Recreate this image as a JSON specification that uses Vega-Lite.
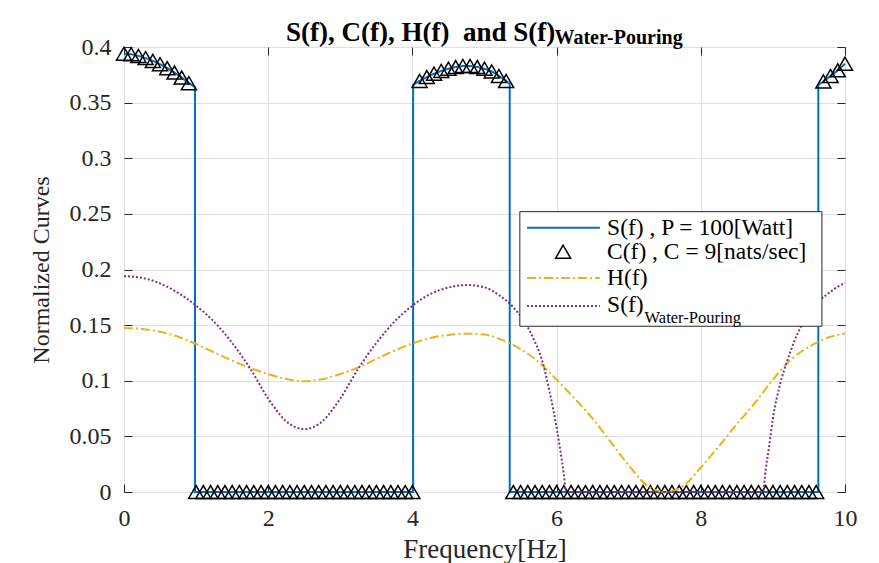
{
  "$schema": "https://vega.github.io/schema/vega-lite/v6.json",
  "width": 721,
  "height": 445,
  "autosize": "none",
  "padding": {"left": 124, "top": 47, "right": 34, "bottom": 71},
  "background": "white",
  "config": {
    "view": {"stroke": "#262626", "strokeWidth": 1},
    "font": "Liberation Serif"
  },
  "title": {
    "text": "S(f), C(f), H(f)\u00a0 and S(f)",
    "anchor": "start",
    "frame": "group",
    "dx": 162,
    "offset": -41,
    "baseline": "alphabetic",
    "font": "Liberation Serif",
    "fontSize": 27,
    "fontWeight": "bold",
    "color": "black"
  },
  "datasets": {
    "S": [
      {"f": 0, "s": 0.394}, {"f": 0.1, "s": 0.3935}, {"f": 0.2, "s": 0.392}, {"f": 0.3, "s": 0.39},
      {"f": 0.4, "s": 0.3875}, {"f": 0.5, "s": 0.3845}, {"f": 0.6, "s": 0.381}, {"f": 0.7, "s": 0.377},
      {"f": 0.8, "s": 0.3725}, {"f": 0.9, "s": 0.3675}, {"f": 0.985, "s": 0.364}, {"f": 0.985, "s": 0},
      {"f": 4.01, "s": 0}, {"f": 4.01, "s": 0.366}, {"f": 4.1, "s": 0.3695}, {"f": 4.2, "s": 0.373},
      {"f": 4.3, "s": 0.376}, {"f": 4.4, "s": 0.3785}, {"f": 4.5, "s": 0.3805}, {"f": 4.6, "s": 0.382},
      {"f": 4.7, "s": 0.383}, {"f": 4.8, "s": 0.383}, {"f": 4.9, "s": 0.382}, {"f": 5.0, "s": 0.3805},
      {"f": 5.1, "s": 0.378}, {"f": 5.2, "s": 0.374}, {"f": 5.3, "s": 0.3695}, {"f": 5.35, "s": 0.367},
      {"f": 5.35, "s": 0}, {"f": 9.63, "s": 0}, {"f": 9.63, "s": 0.366}, {"f": 9.7, "s": 0.369},
      {"f": 9.8, "s": 0.374}, {"f": 9.9, "s": 0.379}, {"f": 10, "s": 0.385}
    ],
    "C": [
      {"f": 0, "c": 0.394}, {"f": 0.1, "c": 0.3935}, {"f": 0.2, "c": 0.392}, {"f": 0.3, "c": 0.39},
      {"f": 0.4, "c": 0.3875}, {"f": 0.5, "c": 0.3845}, {"f": 0.6, "c": 0.381}, {"f": 0.7, "c": 0.377},
      {"f": 0.8, "c": 0.3725}, {"f": 0.9, "c": 0.3675},
      {"f": 1.0, "c": 0}, {"f": 1.1, "c": 0}, {"f": 1.2, "c": 0}, {"f": 1.3, "c": 0}, {"f": 1.4, "c": 0},
      {"f": 1.5, "c": 0}, {"f": 1.6, "c": 0}, {"f": 1.7, "c": 0}, {"f": 1.8, "c": 0}, {"f": 1.9, "c": 0},
      {"f": 2.0, "c": 0}, {"f": 2.1, "c": 0}, {"f": 2.2, "c": 0}, {"f": 2.3, "c": 0}, {"f": 2.4, "c": 0},
      {"f": 2.5, "c": 0}, {"f": 2.6, "c": 0}, {"f": 2.7, "c": 0}, {"f": 2.8, "c": 0}, {"f": 2.9, "c": 0},
      {"f": 3.0, "c": 0}, {"f": 3.1, "c": 0}, {"f": 3.2, "c": 0}, {"f": 3.3, "c": 0}, {"f": 3.4, "c": 0},
      {"f": 3.5, "c": 0}, {"f": 3.6, "c": 0}, {"f": 3.7, "c": 0}, {"f": 3.8, "c": 0}, {"f": 3.9, "c": 0},
      {"f": 4.0, "c": 0},
      {"f": 4.1, "c": 0.3695}, {"f": 4.2, "c": 0.373}, {"f": 4.3, "c": 0.376}, {"f": 4.4, "c": 0.3785},
      {"f": 4.5, "c": 0.3805}, {"f": 4.6, "c": 0.382}, {"f": 4.7, "c": 0.383}, {"f": 4.8, "c": 0.383},
      {"f": 4.9, "c": 0.382}, {"f": 5.0, "c": 0.3805}, {"f": 5.1, "c": 0.378}, {"f": 5.2, "c": 0.374},
      {"f": 5.3, "c": 0.3695},
      {"f": 5.4, "c": 0}, {"f": 5.5, "c": 0}, {"f": 5.6, "c": 0}, {"f": 5.7, "c": 0}, {"f": 5.8, "c": 0},
      {"f": 5.9, "c": 0}, {"f": 6.0, "c": 0}, {"f": 6.1, "c": 0}, {"f": 6.2, "c": 0}, {"f": 6.3, "c": 0},
      {"f": 6.4, "c": 0}, {"f": 6.5, "c": 0}, {"f": 6.6, "c": 0}, {"f": 6.7, "c": 0}, {"f": 6.8, "c": 0},
      {"f": 6.9, "c": 0}, {"f": 7.0, "c": 0}, {"f": 7.1, "c": 0}, {"f": 7.2, "c": 0}, {"f": 7.3, "c": 0},
      {"f": 7.4, "c": 0}, {"f": 7.5, "c": 0}, {"f": 7.6, "c": 0}, {"f": 7.7, "c": 0}, {"f": 7.8, "c": 0},
      {"f": 7.9, "c": 0}, {"f": 8.0, "c": 0}, {"f": 8.1, "c": 0}, {"f": 8.2, "c": 0}, {"f": 8.3, "c": 0},
      {"f": 8.4, "c": 0}, {"f": 8.5, "c": 0}, {"f": 8.6, "c": 0}, {"f": 8.7, "c": 0}, {"f": 8.8, "c": 0},
      {"f": 8.9, "c": 0}, {"f": 9.0, "c": 0}, {"f": 9.1, "c": 0}, {"f": 9.2, "c": 0}, {"f": 9.3, "c": 0},
      {"f": 9.4, "c": 0}, {"f": 9.5, "c": 0}, {"f": 9.6, "c": 0},
      {"f": 9.7, "c": 0.369}, {"f": 9.8, "c": 0.374}, {"f": 9.9, "c": 0.379}, {"f": 10.0, "c": 0.385}
    ],
    "H": [
      {"f": 0, "h": 0.1474}, {"f": 0.25, "h": 0.1466}, {"f": 0.5, "h": 0.144}, {"f": 0.75, "h": 0.1395},
      {"f": 1.0, "h": 0.133}, {"f": 1.25, "h": 0.1255}, {"f": 1.5, "h": 0.118}, {"f": 1.75, "h": 0.1115},
      {"f": 2.0, "h": 0.106}, {"f": 2.25, "h": 0.1015}, {"f": 2.5, "h": 0.0995}, {"f": 2.75, "h": 0.1015},
      {"f": 3.0, "h": 0.106}, {"f": 3.25, "h": 0.112}, {"f": 3.5, "h": 0.1195}, {"f": 3.75, "h": 0.127},
      {"f": 4.0, "h": 0.1335}, {"f": 4.25, "h": 0.1385}, {"f": 4.5, "h": 0.1412}, {"f": 4.75, "h": 0.1423},
      {"f": 5.0, "h": 0.1415}, {"f": 5.25, "h": 0.1365}, {"f": 5.5, "h": 0.1285}, {"f": 5.75, "h": 0.117},
      {"f": 6.0, "h": 0.101}, {"f": 6.25, "h": 0.084}, {"f": 6.5, "h": 0.066}, {"f": 6.75, "h": 0.045},
      {"f": 7.0, "h": 0.024}, {"f": 7.25, "h": 0.006}, {"f": 7.5, "h": 0}, {"f": 7.75, "h": 0.005},
      {"f": 8.0, "h": 0.022}, {"f": 8.25, "h": 0.041}, {"f": 8.5, "h": 0.061}, {"f": 8.75, "h": 0.08},
      {"f": 9.0, "h": 0.101}, {"f": 9.25, "h": 0.119}, {"f": 9.5, "h": 0.1305}, {"f": 9.75, "h": 0.1385},
      {"f": 10.0, "h": 0.1425}
    ],
    "W": [
      {"f": 0, "w": 0.194}, {"f": 0.25, "w": 0.1925}, {"f": 0.5, "w": 0.1875}, {"f": 0.75, "w": 0.179},
      {"f": 1.0, "w": 0.1675}, {"f": 1.25, "w": 0.153}, {"f": 1.5, "w": 0.134}, {"f": 1.75, "w": 0.111},
      {"f": 2.0, "w": 0.084}, {"f": 2.25, "w": 0.0635}, {"f": 2.5, "w": 0.0565}, {"f": 2.75, "w": 0.0635},
      {"f": 3.0, "w": 0.084}, {"f": 3.25, "w": 0.111}, {"f": 3.5, "w": 0.134}, {"f": 3.75, "w": 0.153},
      {"f": 4.0, "w": 0.1675}, {"f": 4.25, "w": 0.178}, {"f": 4.5, "w": 0.1838}, {"f": 4.75, "w": 0.186},
      {"f": 5.0, "w": 0.184}, {"f": 5.2, "w": 0.177}, {"f": 5.4, "w": 0.166}, {"f": 5.6, "w": 0.148},
      {"f": 5.7, "w": 0.135}, {"f": 5.8, "w": 0.118}, {"f": 5.9, "w": 0.091}, {"f": 6.0, "w": 0.058},
      {"f": 6.05, "w": 0.038}, {"f": 6.1, "w": 0.016}, {"f": 6.13, "w": 0}, {"f": 8.86, "w": 0},
      {"f": 8.9, "w": 0.02}, {"f": 8.95, "w": 0.042}, {"f": 9.0, "w": 0.066}, {"f": 9.1, "w": 0.097},
      {"f": 9.2, "w": 0.118}, {"f": 9.3, "w": 0.136}, {"f": 9.4, "w": 0.15}, {"f": 9.5, "w": 0.161},
      {"f": 9.6, "w": 0.169}, {"f": 9.7, "w": 0.175}, {"f": 9.8, "w": 0.18}, {"f": 9.9, "w": 0.1845},
      {"f": 10.0, "w": 0.188}
    ]
  },
  "layer": [
    {
      "layer": [
        {
          "data": {"name": "S"},
          "mark": {"type": "line", "color": "#0072BD", "strokeWidth": 2},
          "encoding": {
            "x": {
              "field": "f", "type": "quantitative",
              "scale": {"domain": [0, 10], "nice": false, "zero": false},
              "axis": {
                "orient": "bottom", "values": [0, 2, 4, 6, 8, 10], "format": "~g", "labelFlush": false,
                "title": "Frequency[Hz]",
                "grid": true, "gridColor": "#e0e0e0", "gridWidth": 1, "domain": false,
                "ticks": true, "tickColor": "#262626", "tickSize": -8, "labelPadding": 22,
                "labelFont": "Liberation Serif", "labelFontSize": 24, "labelColor": "#262626",
                "titleFont": "Liberation Serif", "titleFontSize": 27, "titleFontWeight": "normal",
                "titleColor": "#262626", "titlePadding": 6
              }
            },
            "y": {
              "field": "s", "type": "quantitative",
              "scale": {"domain": [0, 0.4], "nice": false},
              "axis": {
                "orient": "left", "values": [0, 0.05, 0.1, 0.15, 0.2, 0.25, 0.3, 0.35, 0.4],
                "format": ".2~f", "labelFlush": false, "title": "Normalized Curves",
                "grid": true, "gridColor": "#e0e0e0", "gridWidth": 1, "domain": false,
                "ticks": true, "tickColor": "#262626", "tickSize": -8, "labelPadding": 21,
                "labelFont": "Liberation Serif", "labelFontSize": 24, "labelColor": "#262626",
                "titleFont": "Liberation Serif", "titleFontSize": 24, "titleFontWeight": "normal",
                "titleColor": "#262626", "titlePadding": 16
              }
            },
            "order": {"value": null}
          }
        },
        {
          "data": {"name": "C"},
          "mark": {"type": "point", "shape": "triangle-up", "filled": false, "stroke": "black", "strokeWidth": 1.5, "size": 225, "opacity": 1},
          "encoding": {
            "x": {"field": "f", "type": "quantitative", "scale": {"domain": [0, 10], "nice": false, "zero": false}},
            "y": {"field": "c", "type": "quantitative", "scale": {"domain": [0, 0.4], "nice": false}}
          }
        },
        {
          "data": {"name": "H"},
          "mark": {"type": "line", "color": "#EDB120", "strokeWidth": 2, "strokeDash": [9, 3, 2, 3], "interpolate": "monotone"},
          "encoding": {
            "x": {"field": "f", "type": "quantitative", "scale": {"domain": [0, 10], "nice": false, "zero": false}},
            "y": {"field": "h", "type": "quantitative", "scale": {"domain": [0, 0.4], "nice": false}}
          }
        },
        {
          "data": {"name": "W"},
          "mark": {"type": "line", "color": "#7E2F8E", "strokeWidth": 2, "strokeDash": [2, 2], "interpolate": "monotone"},
          "encoding": {
            "x": {"field": "f", "type": "quantitative", "scale": {"domain": [0, 10], "nice": false, "zero": false}},
            "y": {"field": "w", "type": "quantitative", "scale": {"domain": [0, 0.4], "nice": false}}
          }
        },
        {
          "data": {"values": [{}]},
          "mark": {"type": "rect", "fill": "white", "stroke": "#262626", "strokeWidth": 1},
          "encoding": {
            "x": {"datum": 5.49, "type": "quantitative"},
            "x2": {"datum": 9.68},
            "y": {"datum": 0.252, "type": "quantitative"},
            "y2": {"datum": 0.149}
          }
        },
        {
          "data": {"values": [{}]},
          "mark": {"type": "rule", "color": "#0072BD", "strokeWidth": 2},
          "encoding": {
            "x": {"datum": 5.59, "type": "quantitative"}, "x2": {"datum": 6.6},
            "y": {"datum": 0.2376, "type": "quantitative"}
          }
        },
        {
          "data": {"values": [{}]},
          "mark": {"type": "point", "shape": "triangle-up", "filled": false, "stroke": "black", "strokeWidth": 1.5, "size": 225, "opacity": 1},
          "encoding": {
            "x": {"datum": 6.09, "type": "quantitative"},
            "y": {"datum": 0.216, "type": "quantitative"}
          }
        },
        {
          "data": {"values": [{}]},
          "mark": {"type": "rule", "color": "#EDB120", "strokeWidth": 2, "strokeDash": [9, 3, 2, 3]},
          "encoding": {
            "x": {"datum": 5.59, "type": "quantitative"}, "x2": {"datum": 6.6},
            "y": {"datum": 0.1924, "type": "quantitative"}
          }
        },
        {
          "data": {"values": [{}]},
          "mark": {"type": "rule", "color": "#7E2F8E", "strokeWidth": 2, "strokeDash": [2, 2]},
          "encoding": {
            "x": {"datum": 5.59, "type": "quantitative"}, "x2": {"datum": 6.6},
            "y": {"datum": 0.1672, "type": "quantitative"}
          }
        },
        {
          "data": {"values": [{}]},
          "mark": {"type": "text", "text": "S(f) , P = 100[Watt]", "align": "left", "baseline": "middle", "font": "Liberation Serif", "fontSize": 23.5, "color": "black"},
          "encoding": {"x": {"datum": 6.7, "type": "quantitative"}, "y": {"datum": 0.2376, "type": "quantitative"}}
        },
        {
          "data": {"values": [{}]},
          "mark": {"type": "text", "text": "C(f) , C = 9[nats/sec]", "align": "left", "baseline": "middle", "font": "Liberation Serif", "fontSize": 23.5, "color": "black"},
          "encoding": {"x": {"datum": 6.7, "type": "quantitative"}, "y": {"datum": 0.216, "type": "quantitative"}}
        },
        {
          "data": {"values": [{}]},
          "mark": {"type": "text", "text": "H(f)", "align": "left", "baseline": "middle", "font": "Liberation Serif", "fontSize": 23.5, "color": "black"},
          "encoding": {"x": {"datum": 6.7, "type": "quantitative"}, "y": {"datum": 0.1924, "type": "quantitative"}}
        },
        {
          "data": {"values": [{}]},
          "mark": {"type": "text", "text": "S(f)", "align": "left", "baseline": "middle", "font": "Liberation Serif", "fontSize": 23.5, "color": "black"},
          "encoding": {"x": {"datum": 6.7, "type": "quantitative"}, "y": {"datum": 0.1678, "type": "quantitative"}}
        },
        {
          "data": {"values": [{}]},
          "mark": {"type": "text", "text": "Water-Pouring", "align": "left", "baseline": "middle", "font": "Liberation Serif", "fontSize": 16.5, "color": "black"},
          "encoding": {"x": {"datum": 7.22, "type": "quantitative"}, "y": {"datum": 0.1567, "type": "quantitative"}}
        }
      ]
    },
    {
      "data": {"name": "H"},
      "mark": {"type": "point", "opacity": 0},
      "encoding": {
        "x": {
          "field": "f", "type": "quantitative",
          "scale": {"domain": [0, 10], "nice": false, "zero": false},
          "axis": {
            "orient": "top", "values": [0, 2, 4, 6, 8, 10], "labels": false, "grid": false, "domain": false,
            "ticks": true, "tickColor": "#262626", "tickSize": -8,
            "title": "Water-Pouring", "titleX": 430, "titleY": -4, "titleAlign": "left", "titleBaseline": "alphabetic",
            "titleAngle": 0, "titleFont": "Liberation Serif", "titleFontSize": 20, "titleFontWeight": "bold", "titleColor": "black"
          }
        },
        "y": {
          "field": "h", "type": "quantitative",
          "scale": {"domain": [0, 0.4], "nice": false},
          "axis": {
            "orient": "right", "values": [0, 0.05, 0.1, 0.15, 0.2, 0.25, 0.3, 0.35, 0.4], "labels": false, "grid": false,
            "domain": false, "ticks": true, "tickColor": "#262626", "tickSize": -8, "title": null
          }
        }
      }
    }
  ],
  "resolve": {"scale": {"x": "independent", "y": "independent"}, "axis": {"x": "independent", "y": "independent"}}
}
